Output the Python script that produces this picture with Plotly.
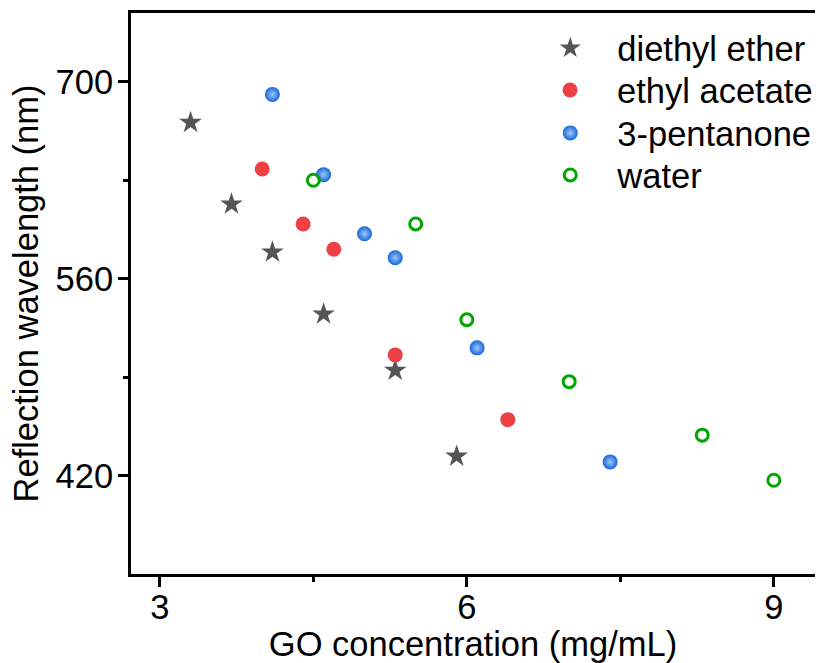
import plotly.graph_objects as go

# GO concentration (mg/mL) and reflection wavelength (nm) for each solvent
ether_x = [3.3, 3.7, 4.1, 4.6, 5.3, 5.9]
ether_y = [671, 613, 579, 535, 495, 434]

acetate_x = [4.0, 4.4, 4.7, 5.3, 6.4]
acetate_y = [638, 599, 581, 506, 460]

pentanone_x = [4.1, 4.6, 5.0, 5.3, 6.1, 7.4]
pentanone_y = [691, 634, 592, 575, 511, 430]

water_x = [4.5, 5.5, 6.0, 7.0, 8.3, 9.0]
water_y = [630, 599, 531, 487, 449, 417]

x_ticks = [3, 6, 9]
y_ticks = [420, 560, 700]

FONT = "Liberation Sans, Arial, sans-serif"
FS = 34.5

fig = go.Figure()

fig.add_trace(go.Scatter(
    x=ether_x, y=ether_y, mode="markers", name="diethyl ether", legend="legend",
    showlegend=True,
    marker=dict(symbol="star", size=17, color="#555555", line=dict(width=0)),
))
fig.add_trace(go.Scatter(
    x=acetate_x, y=acetate_y, mode="markers", name="ethyl acetate", legend="legend2",
    showlegend=True,
    marker=dict(symbol="circle", size=15, color="#EE4145", line=dict(width=0)),
))
fig.add_trace(go.Scatter(
    x=pentanone_x, y=pentanone_y, mode="markers", name="3-pentanone", legend="legend3",
    showlegend=True,
    marker=dict(symbol="circle", size=15, color="#1667DC", line=dict(width=0),
                gradient=dict(type="radial", color="#9fc6f8")),
))
fig.add_trace(go.Scatter(
    x=water_x, y=water_y, mode="markers", name="water", legend="legend4",
    showlegend=True,
    marker=dict(symbol="circle-open", size=12, color="#00A600",
                line=dict(width=3, color="#00A600")),
))

axis_common = dict(
    showgrid=False, zeroline=False, showline=True, linecolor="black",
    linewidth=3, ticks="outside", ticklen=10, tickwidth=2.5, tickcolor="black",
    tickfont=dict(family=FONT, size=FS, color="black"),
)

fig.update_xaxes(
    **axis_common, range=[2.718, 9.402], tickvals=x_ticks, mirror=True,
    ticklabelstandoff=-9,
    minor=dict(dtick=1.5, tick0=3, ticks="outside", ticklen=5, tickwidth=2.5,
               tickcolor="black", showgrid=False),
    title=dict(text="GO concentration (mg/mL)", font=dict(family=FONT, size=FS, color="black"),
               standoff=13),
)
fig.update_yaxes(
    **axis_common, range=[350.4, 748.8], tickvals=y_ticks, mirror=False,
    ticklabelstandoff=-2,
    minor=dict(dtick=70, tick0=420, ticks="outside", ticklen=5, tickwidth=2.5,
               tickcolor="black", showgrid=False),
    title=dict(text="Reflection wavelength (nm)", font=dict(family=FONT, size=FS, color="black"),
               standoff=7),
)

# one single-entry legend per series, stacked at the upper right
legend_style = dict(
    x=0.5735, xanchor="left", yanchor="middle",
    font=dict(family=FONT, size=FS, color="black"),
    bgcolor="rgba(0,0,0,0)", itemwidth=84, visible=True,
)
fig.update_layout(
    width=818, height=663,
    margin=dict(l=131, r=0, t=13, b=89),
    plot_bgcolor="white", paper_bgcolor="white",
    showlegend=True,
    legend=dict(y=0.9376, **legend_style),
    legend2=dict(y=0.8627, **legend_style),
    legend3=dict(y=0.7861, **legend_style),
    legend4=dict(y=0.7112, **legend_style),
)

fig.write_html("out.html")
